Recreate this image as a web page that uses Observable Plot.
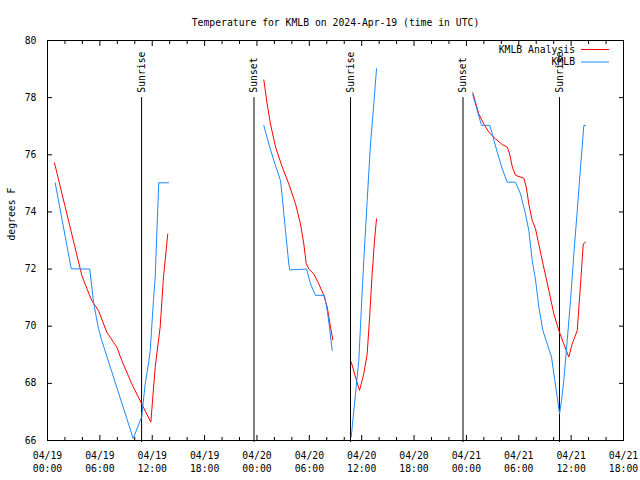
<!DOCTYPE html>
<html><head><meta charset="utf-8">
<script src="https://cdn.jsdelivr.net/npm/d3@7"></script>
<script src="https://cdn.jsdelivr.net/npm/@observablehq/plot@0.6"></script>
<style>body{margin:0;background:#fff}</style>
</head><body><div id="chart"></div>
<script>
// Hours since 2024-04-19 00:00 UTC; null separates gaps
const START = Date.UTC(2024, 3, 19);
const titleText = "Temperature for KMLB on 2024-Apr-19 (time in UTC)";
const yLabel = "degrees F";

const analysisHours = [0.80,3.93,4.78,5.08,5.84,6.79,7.56,7.94,8.51,9.66,10.80,11.84,12.34,12.91,13.29,13.78,
  null,
  24.79,25.17,25.55,26.13,26.90,27.65,28.42,28.99,29.37,29.64,29.94,30.52,31.09,31.66,32.05,32.43,32.69,
  null,
  34.80,35.29,35.75,36.24,36.63,36.93,37.20,37.47,37.70,
  null,
  48.73,49.42,49.99,50.57,51.33,52.10,52.68,52.95,53.26,53.63,54.58,54.86,55.15,55.54,55.92,56.69,57.45,58.02,58.59,59.16,59.73,60.12,60.70,61.08,61.39,61.65];
const analysisTemps = [75.72,71.78,71.11,70.90,70.55,69.79,69.44,69.27,68.80,67.98,67.28,66.64,68.57,69.97,71.72,73.23,
  null,
  78.62,77.78,77.08,76.27,75.57,74.98,74.28,73.58,72.88,72.20,72.00,71.83,71.48,71.08,70.67,69.97,69.52,
  null,
  68.75,68.22,67.75,68.33,69.03,70.43,71.83,73.00,73.76,
  null,
  78.17,77.43,77.08,76.79,76.56,76.36,76.27,76.03,75.57,75.28,75.18,74.87,74.28,73.70,73.41,72.30,71.25,70.43,69.85,69.38,68.92,69.38,69.85,71.48,72.88,72.94];

const obsHours = [0.88,2.72,4.85,5.27,5.84,6.22,9.82,10.80,11.19,11.57,11.77,12.14,12.34,12.52,12.75,13.87,
  null,
  24.79,25.36,25.93,26.70,26.90,27.27,27.65,27.76,29.68,30.14,30.71,31.74,32.05,32.31,32.62,
  null,
  34.80,35.29,35.67,35.95,36.24,36.63,37.01,37.39,37.70,
  null,
  48.73,49.73,50.68,50.96,51.53,52.10,52.68,53.63,54.20,54.77,55.15,55.54,55.92,56.30,56.76,57.26,57.75,58.13,58.41,58.67,58.90,59.16,59.55,59.93,60.31,60.70,61.08,61.46,61.65];
const obsTemps = [75.02,72.01,72.00,70.84,69.92,69.50,66.07,66.84,67.98,68.68,69.15,70.90,71.72,73.23,75.02,75.02,
  null,
  77.02,76.38,75.80,75.10,74.52,73.35,72.18,71.97,72.00,71.48,71.08,71.08,70.55,69.97,69.15,
  null,
  66.12,67.63,68.80,70.55,72.30,74.40,76.38,77.78,79.01,
  null,
  78.10,77.03,77.03,76.73,76.09,75.51,75.04,75.04,74.63,73.93,73.35,72.30,71.62,70.67,69.85,69.38,68.92,68.10,67.52,66.93,67.40,68.10,69.50,70.90,72.52,74.05,75.57,77.03,77.03];

const sunHours = [10.78, 23.66, 34.72, 47.61, 58.67];
const sunLabels = ["Sunrise", "Sunset", "Sunrise", "Sunset", "Sunrise"];

const majorTickHours = [0,6,12,18,24,30,36,42,48,54,60,66];
const minorTickHours = [2,4,8,10,14,16,20,22,26,28,32,34,38,40,44,46,50,52,56,58,62,64];
const yTicks = [66,68,70,72,74,76,78,80];

const seriesNames = ["KMLB Analysis", "KMLB"];
const seriesColors = ["#ff0000", "#1e88ff"];

const toDate = h => new Date(START + h * 3600e3);
const build = (hs, ts) => hs.map((h, i) => h == null ? {date: null, temp: null} : {date: toDate(h), temp: ts[i]});
const analysis = build(analysisHours, analysisTemps);
const obs = build(obsHours, obsTemps);
const sunEvents = sunHours.map((h, i) => ({date: toDate(h), label: sunLabels[i]}));
const majorTicks = majorTickHours.map(toDate);
const minorTicks = minorTickHours.map(toDate);
const fmt = d3.utcFormat("%m/%d\n%H:%M");

const legend = (index, scales, values, dims) => {
  const xr = dims.width - dims.marginRight;
  const g = d3.create("svg:g");
  seriesNames.forEach((name, i) => {
    const y = dims.marginTop + 9.5 + i * 12.5;
    g.append("text").attr("x", xr - 48).attr("y", y).attr("dy", "0.32em")
      .attr("text-anchor", "end").attr("fill", "black").text(name);
    g.append("line").attr("x1", xr - 42).attr("x2", xr - 14).attr("y1", y).attr("y2", y)
      .attr("stroke", seriesColors[i]).attr("stroke-width", 1);
  });
  return g.node();
};

const chart = Plot.plot({
  width: 640, height: 480,
  marginLeft: 47, marginRight: 17, marginTop: 40, marginBottom: 40,
  style: {fontFamily: "'DejaVu Sans Mono', monospace", fontSize: "9.75px", background: "white", color: "black"},
  x: {type: "utc", domain: [toDate(0), toDate(66)]},
  y: {domain: [66, 80]},
  marks: [
    Plot.ruleX(sunEvents, {x: "date", y1: 66, y2: 78, insetTop: 2, stroke: "black", strokeWidth: 1}),
    Plot.text(sunEvents, {x: "date", y: 78, text: "label", rotate: -90, textAnchor: "start", dy: -5, fill: "black"}),
    Plot.line(analysis, {x: "date", y: "temp", stroke: seriesColors[0], strokeWidth: 1}),
    Plot.line(obs, {x: "date", y: "temp", stroke: seriesColors[1], strokeWidth: 1}),
    Plot.frame({stroke: "black"}),
    Plot.axisX(majorTicks, {anchor: "bottom", tickSize: 5, dy: -5, fill: "none", label: null}),
    Plot.axisX(minorTicks, {anchor: "bottom", tickSize: 3, dy: -3, fill: "none", label: null}),
    Plot.axisX(majorTicks, {anchor: "top", tickSize: 5, dy: 5, fill: "none", label: null}),
    Plot.axisX(minorTicks, {anchor: "top", tickSize: 3, dy: 3, fill: "none", label: null}),
    Plot.axisX(majorTicks, {anchor: "bottom", tickSize: 0, tickPadding: 9.6, tickFormat: fmt, lineHeight: 1.33, label: null}),
    Plot.axisY(yTicks, {anchor: "left", tickSize: 5, dx: 5, fill: "none", label: null}),
    Plot.axisY(yTicks, {anchor: "right", tickSize: 5, dx: -5, fill: "none", label: null}),
    Plot.axisY(yTicks, {anchor: "left", tickSize: 0, tickPadding: 11, label: null}),
    Plot.text([yLabel], {frameAnchor: "left", dx: -36, rotate: -90, fill: "black"}),
    Plot.text([titleText], {frameAnchor: "top", dy: -21, fill: "black"}),
    legend
  ]
});
document.getElementById("chart").appendChild(chart);
</script>
</body></html>
